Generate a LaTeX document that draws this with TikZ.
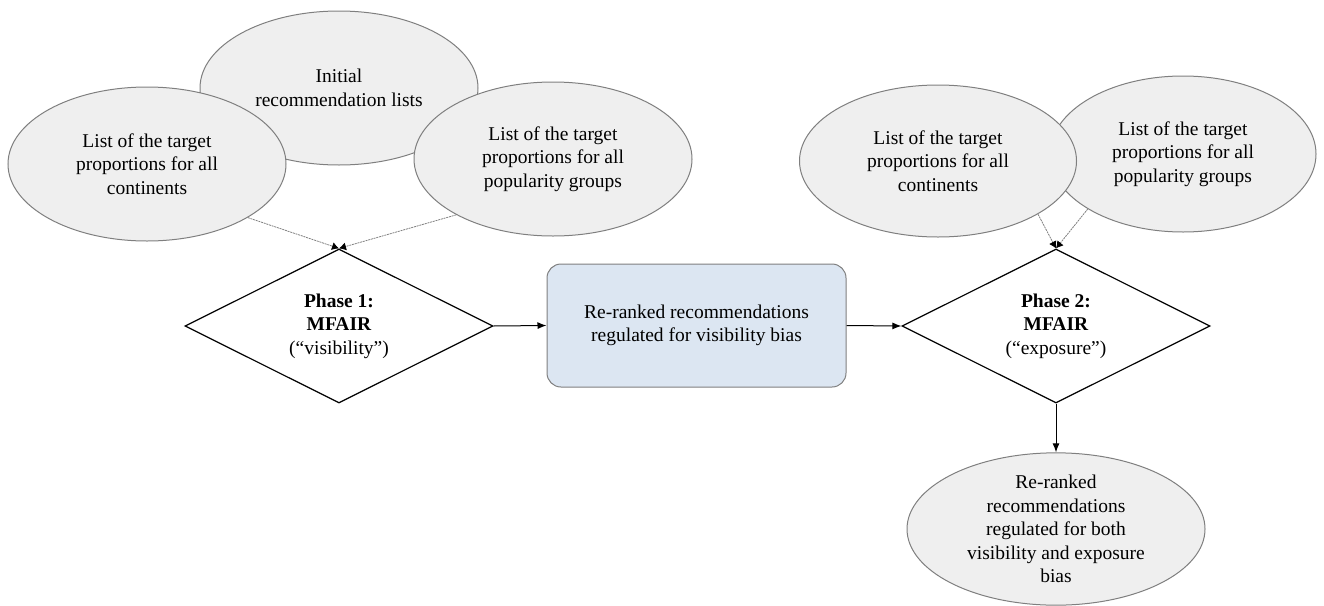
\documentclass[tikz,border=0pt]{standalone}
\usepackage{fontspec}
\setmainfont{LiberationSerif}[Extension=.ttf,UprightFont=*-Regular,BoldFont=*-Bold,ItalicFont=*-Italic,BoldItalicFont=*-BoldItalic]
\usetikzlibrary{shapes.geometric,arrows.meta}
\definecolor{ellfill}{HTML}{EFEFEF}
\definecolor{ellline}{HTML}{7F7F7F}
\definecolor{boxfill}{HTML}{DCE6F2}
\tikzset{
  txt/.style={font=\fontsize{19.5}{23.5}\selectfont, align=center},
  ell/.style={txt, ellipse, draw=ellline, line width=1pt, fill=ellfill, inner sep=0pt,
              minimum width=278pt, minimum height=154pt},
  dia/.style={txt, diamond, aspect=2, draw=black, line width=1.2pt, fill=white, inner sep=0pt,
              minimum width=308pt, minimum height=154pt},
  rbox/.style={txt, rectangle, rounded corners=14pt, draw=ellline, line width=1pt, fill=boxfill,
              minimum width=299pt, minimum height=123pt},
  mainarrow/.style={draw=black, line width=1pt, -{Latex[length=9pt,width=7pt]}},
  thinarrow/.style={draw=gray, line width=0.8pt, dash pattern=on 2pt off 0.8pt,
              -{Latex[length=7pt,width=8pt,fill=black,color=black]}},
}
\begin{document}
\begin{tikzpicture}[x=1pt,y=-1pt]
\useasboundingbox (0,0) rectangle (1324,605);
% Phase 1 inputs
\node[ell] (init) at (339,88) {Initial\\recommendation lists};
\node[ell] (l1) at (147,164) {List of the target\\proportions for all\\continents};
\node[ell] (p1) at (553,159) {List of the target\\proportions for all\\popularity groups};
% Phase 2 inputs
\node[ell, minimum width=266pt, minimum height=156pt] (p2) at (1183,154) {List of the target\\proportions for all\\popularity groups};
\node[ell, minimum width=277pt, minimum height=152pt] (l2) at (938,161) {List of the target\\proportions for all\\continents};
% Main flow
\node[dia] (d1) at (339,326) {\textbf{Phase 1:}\\\textbf{MFAIR}\\(“visibility”)};
\node[rbox] (box) at (696.5,325.5) {Re-ranked recommendations\\regulated for visibility bias};
\node[dia] (d2) at (1056,326) {\textbf{Phase 2:}\\\textbf{MFAIR}\\(“exposure”)};
\node[ell, minimum width=298pt, minimum height=152pt] (out) at (1056,529) {Re-ranked\\recommendations\\regulated for both\\visibility and exposure\\bias};
% Connectors
\draw[thinarrow] (l1.-28) -- (d1.north);
\draw[thinarrow] (p1.-150) -- (d1.north);
\draw[thinarrow] (l2.-28) -- (d2.north);
\draw[thinarrow] (p2.-150) -- (d2.north);
\draw[mainarrow] (d1.east) -- (box.west);
\draw[mainarrow] (box.east) -- (d2.west);
\draw[mainarrow] (d2.south) -- (out.north);
\end{tikzpicture}
\end{document}
